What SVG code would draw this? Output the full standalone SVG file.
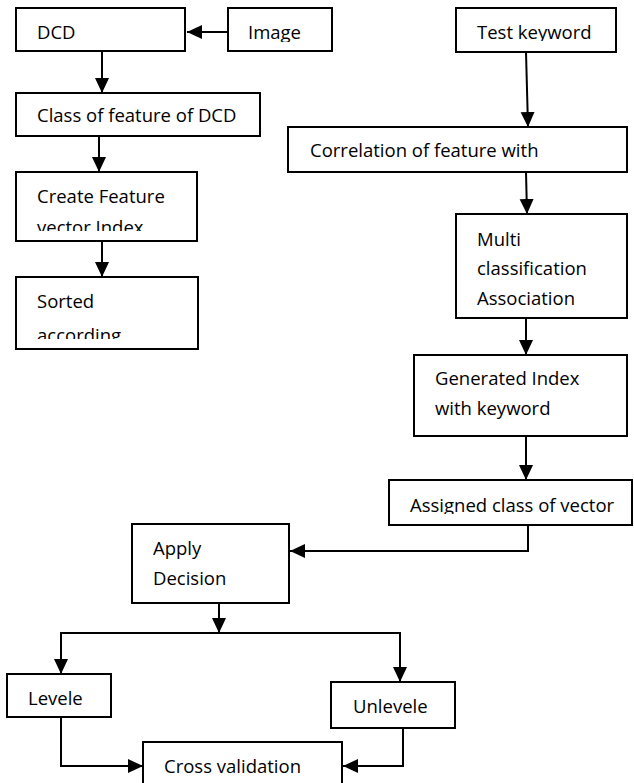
<svg xmlns="http://www.w3.org/2000/svg" width="634" height="783" viewBox="0 0 634 783">
<style>
.box{fill:#fff;stroke:#000;stroke-width:2}
.t{font-family:"Open Sans","Liberation Sans",sans-serif;font-size:18.5px;fill:#000}
.c{fill:none;stroke:#000;stroke-width:2}
</style>
<defs>
<marker id="ah" markerUnits="userSpaceOnUse" markerWidth="16" markerHeight="16" viewBox="0 0 16 16" refX="15" refY="8" orient="auto">
<path d="M0,1 L15,8 L0,15 Z" fill="#000"/>
</marker>
<clipPath id="clImage"><rect x="228" y="8" width="104" height="34"/></clipPath>
<clipPath id="clTest"><rect x="456" y="8" width="160" height="33"/></clipPath>
<clipPath id="clCreate"><rect x="16" y="172" width="181" height="59"/></clipPath>
<clipPath id="clSorted"><rect x="16" y="277" width="182" height="62"/></clipPath>
<clipPath id="clAssigned"><rect x="389" y="480" width="243" height="34"/></clipPath>
</defs>
<g id="connectors">
<path class="c" d="M228,32 H187" marker-end="url(#ah)"/>
<path class="c" d="M102,51 V93" marker-end="url(#ah)"/>
<path class="c" d="M99,136 V172" marker-end="url(#ah)"/>
<path class="c" d="M102,241 V277" marker-end="url(#ah)"/>
<path class="c" d="M526,52 L528,127" marker-end="url(#ah)"/>
<path class="c" d="M526,172 L527,214" marker-end="url(#ah)"/>
<path class="c" d="M526,318 V355" marker-end="url(#ah)"/>
<path class="c" d="M526,436 V480" marker-end="url(#ah)"/>
<path class="c" d="M528,525 V551 H290" marker-end="url(#ah)"/>
<path class="c" d="M219,603 V633" marker-end="url(#ah)"/>
<path class="c" d="M60,633 H401"/>
<path class="c" d="M61,633 V674" marker-end="url(#ah)"/>
<path class="c" d="M400,633 V682" marker-end="url(#ah)"/>
<path class="c" d="M61,717 V766 H143" marker-end="url(#ah)"/>
<path class="c" d="M403,728 V766 H343" marker-end="url(#ah)"/>
</g>
<g id="n-dcd"><rect class="box" x="16" y="8" width="169" height="43"/><text class="t" x="37" y="39">DCD</text></g>
<g id="n-image"><rect class="box" x="228" y="8" width="104" height="43"/><text class="t" x="248" y="39" clip-path="url(#clImage)">Image</text></g>
<g id="n-class"><rect class="box" x="16" y="93" width="244" height="43"/><text class="t" x="37" y="122">Class of feature of DCD</text></g>
<g id="n-create"><rect class="box" x="16" y="172" width="181" height="69"/><g clip-path="url(#clCreate)"><text class="t" x="37" y="203">Create Feature</text><text class="t" x="37" y="234">vector Index</text></g></g>
<g id="n-sorted"><rect class="box" x="16" y="277" width="182" height="72"/><g clip-path="url(#clSorted)"><text class="t" x="37" y="308">Sorted</text><text class="t" x="37" y="342">according</text></g></g>
<g id="n-test"><rect class="box" x="456" y="8" width="160" height="44"/><text class="t" x="477" y="39" clip-path="url(#clTest)">Test keyword</text></g>
<g id="n-corr"><rect class="box" x="288" y="127" width="339" height="45"/><text class="t" x="310" y="157">Correlation of feature with</text></g>
<g id="n-multi"><rect class="box" x="456" y="214" width="171" height="104"/><text class="t" x="477" y="246">Multi</text><text class="t" x="477" y="275">classification</text><text class="t" x="477" y="305">Association</text></g>
<g id="n-gen"><rect class="box" x="414" y="355" width="213" height="81"/><text class="t" x="435" y="385">Generated Index</text><text class="t" x="435" y="415">with keyword</text></g>
<g id="n-assigned"><rect class="box" x="389" y="480" width="243" height="45"/><text class="t" x="410" y="512" clip-path="url(#clAssigned)">Assigned class of vector</text></g>
<g id="n-apply"><rect class="box" x="132" y="524" width="157" height="79"/><text class="t" x="153" y="555">Apply</text><text class="t" x="153" y="585">Decision</text></g>
<g id="n-levele"><rect class="box" x="7" y="674" width="104" height="43"/><text class="t" x="28" y="705">Levele</text></g>
<g id="n-unlevele"><rect class="box" x="331" y="682" width="124" height="46"/><text class="t" x="353" y="713">Unlevele</text></g>
<g id="n-cross"><rect class="box" x="143" y="742" width="199" height="50"/><text class="t" x="164" y="773">Cross validation</text></g>
</svg>
